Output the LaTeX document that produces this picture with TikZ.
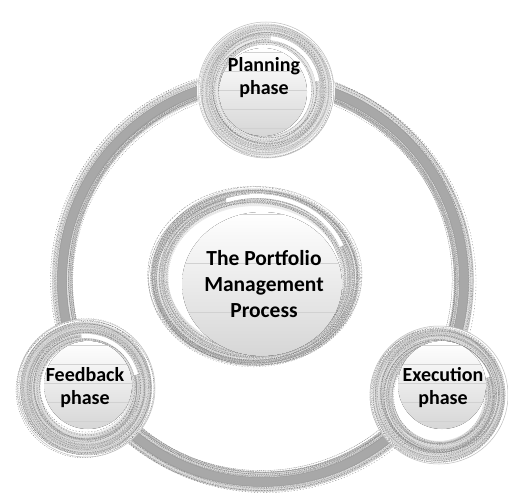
\documentclass[tikz,border=0pt]{standalone}
\usepackage{fontspec}
\setmainfont{Carlito}
\usetikzlibrary{shapes.geometric,calc}
\newcommand{\sketchband}[6]{%
  % #1 cx, #2 cy, #3 inner rx, #4 outer rx, #5 ry/rx, #6 count
  \foreach \k in {1,...,#6}{%
    \pgfmathsetmacro\rr{#3+(#4-#3)*rnd}%
    \pgfmathsetmacro\ry{\rr*#5}%
    \pgfmathsetmacro\ox{2.6*rand}%
    \pgfmathsetmacro\oy{2.6*rand}%
    \pgfmathsetmacro\gv{int(22+35*rnd)}%
    \pgfmathsetmacro\da{0.4+0.9*rnd}%
    \pgfmathsetmacro\db{0.7+1.4*rnd}%
    \draw[black!\gv, line width=0.4pt, dash pattern=on \da pt off \db pt]
      ({#1+\ox},{#2+\oy}) ellipse [x radius=\rr pt, y radius=\ry pt];
  }}
\newcommand{\innerdisk}[5]{%
  % #1 cx, #2 cy, #3 rx, #4 ry, #5 line start y offset
  \fill[top color=white, bottom color=black!16] (#1,#2) ellipse [x radius=#3pt, y radius=#4pt];
  \begin{scope}
    \clip (#1,#2) ellipse [x radius=#3pt, y radius=#4pt];
    \foreach \yy in {#5,-21,...,60}{%
      \draw[black!18, line width=0.3pt] ({#1-#3},{#2+\yy}) -- ({#1+#3},{#2+\yy});
    }
  \end{scope}}
\begin{document}
\begin{tikzpicture}[x=1pt,y=-1pt,
  phasecirc/.style={circle, minimum size=138pt, inner sep=0pt, fill=white},
  phasetext/.style={font=\bfseries\fontsize{20}{23}\selectfont, align=center, text=black},
  coretext/.style={font=\bfseries\fontsize{21.5}{26}\selectfont, align=center, text=black}]
\pgfmathsetseed{7}
\useasboundingbox (0,0) rectangle (508,503);
\fill[white] (0,0) rectangle (508,503);

% ---------- big ring ----------
\coordinate (rc) at (263,281);
\draw[black!11, line width=20pt] (rc) circle (201pt);
\sketchband{263}{281}{191}{211}{1}{45}
\draw[black!34, line width=9pt] (rc) circle (201pt);
\draw[black!40, line width=0.5pt] (rc) circle (205.5pt);
\draw[black!40, line width=0.5pt] (rc) circle (196.5pt);

% ---------- phase circles ----------
\node[phasecirc] (plan) at (266,90) {};
\node[phasecirc] (feed) at (86,388) {};
\node[phasecirc] (exec) at (439,395) {};

% planning
\draw[black!9, line width=20pt] (plan.center) circle (56pt);
\sketchband{266}{90}{46}{67}{1}{45}
\draw[white, line width=4pt] (266,90) ++(10:52pt) arc[start angle=10, end angle=85, radius=52pt];
\draw[black!26, line width=0.5pt] (plan.center) circle (68pt);
\innerdisk{263}{92}{44}{44}{-40}
\node[phasetext] (plant) at (264,78) {Planning\\phase};

% feedback
\draw[black!12, line width=20pt] (feed.center) circle (56pt);
\sketchband{86}{388}{46}{68}{1}{55}
\draw[white, line width=4pt] (86,388) ++(15:52pt) arc[start angle=15, end angle=95, radius=52pt];
\draw[black!26, line width=0.5pt] (feed.center) circle (69pt);
\innerdisk{88}{385}{44}{44}{-40}
\node[phasetext] (feedt) at (85,388) {Feedback\\phase};

% execution
\draw[black!12, line width=20pt] (exec.center) circle (56pt);
\sketchband{439}{395}{46}{68}{1}{55}
\draw[white, line width=4pt] (439,395) ++(20:52pt) arc[start angle=20, end angle=100, radius=52pt];
\draw[black!26, line width=0.5pt] (exec.center) circle (69pt);
\innerdisk{442}{385}{44}{44}{-40}
\node[phasetext] (exect) at (443,388) {Execution\\phase};

% ---------- central ellipse ----------
\node[ellipse, minimum width=216pt, minimum height=182pt, inner sep=0pt, fill=white] (core) at (255,277) {};
\draw[black!8, line width=18pt] (255,277) ellipse [x radius=96pt, y radius=80pt];
\sketchband{255}{277}{88}{106}{0.84}{60}
\draw[white, line width=4pt] (257,272) ++(20:90pt and 76pt) arc[start angle=20, end angle=110, x radius=90pt, y radius=76pt];
\innerdisk{262}{284}{80}{72}{-70}
\node[coretext] (coret) at (264,284) {The Portfolio\\Management\\Process};
\end{tikzpicture}
\end{document}
